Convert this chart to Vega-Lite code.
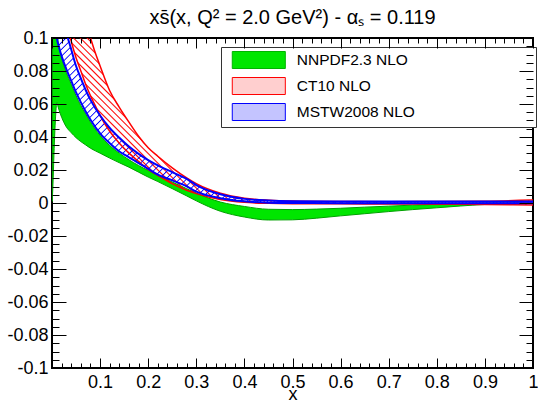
{
"$schema":"https://vega.github.io/schema/vega-lite/v6.json",
"width":481,"height":330,"autosize":"none",
"padding":{"left":52,"top":38,"right":5,"bottom":37},
"title":{"text":"xs\u0304(x, Q\u00b2 = 2.0 GeV\u00b2) - \u03b1\u209b = 0.119","font":"Liberation Sans","fontSize":20,"fontWeight":"normal","color":"#000","anchor":"middle","frame":"group","offset":1.5},
"data":{"values":[
{"series":"NNPDF2.3 NLO","x":0.0005,"lo":0.001,"hi":0.13},
{"series":"NNPDF2.3 NLO","x":0.002,"lo":0.011,"hi":0.13},
{"series":"NNPDF2.3 NLO","x":0.004,"lo":0.029,"hi":0.125},
{"series":"NNPDF2.3 NLO","x":0.006,"lo":0.044,"hi":0.118},
{"series":"NNPDF2.3 NLO","x":0.008,"lo":0.055,"hi":0.11},
{"series":"NNPDF2.3 NLO","x":0.01,"lo":0.061,"hi":0.104},
{"series":"NNPDF2.3 NLO","x":0.012,"lo":0.059,"hi":0.099},
{"series":"NNPDF2.3 NLO","x":0.015,"lo":0.056,"hi":0.094},
{"series":"NNPDF2.3 NLO","x":0.02,"lo":0.052,"hi":0.088},
{"series":"NNPDF2.3 NLO","x":0.03,"lo":0.046,"hi":0.079},
{"series":"NNPDF2.3 NLO","x":0.04,"lo":0.0426,"hi":0.072},
{"series":"NNPDF2.3 NLO","x":0.05,"lo":0.0396,"hi":0.065},
{"series":"NNPDF2.3 NLO","x":0.06,"lo":0.0372,"hi":0.059},
{"series":"NNPDF2.3 NLO","x":0.07,"lo":0.0352,"hi":0.054},
{"series":"NNPDF2.3 NLO","x":0.08,"lo":0.0332,"hi":0.049},
{"series":"NNPDF2.3 NLO","x":0.1,"lo":0.0302,"hi":0.041},
{"series":"NNPDF2.3 NLO","x":0.12,"lo":0.0272,"hi":0.0348},
{"series":"NNPDF2.3 NLO","x":0.14,"lo":0.0244,"hi":0.0302},
{"series":"NNPDF2.3 NLO","x":0.16,"lo":0.0217,"hi":0.0262},
{"series":"NNPDF2.3 NLO","x":0.18,"lo":0.0187,"hi":0.0227},
{"series":"NNPDF2.3 NLO","x":0.2,"lo":0.0157,"hi":0.0197},
{"series":"NNPDF2.3 NLO","x":0.22,"lo":0.013,"hi":0.0167},
{"series":"NNPDF2.3 NLO","x":0.25,"lo":0.0087,"hi":0.0127},
{"series":"NNPDF2.3 NLO","x":0.28,"lo":0.0043,"hi":0.0087},
{"series":"NNPDF2.3 NLO","x":0.3,"lo":0.0013,"hi":0.006},
{"series":"NNPDF2.3 NLO","x":0.35,"lo":-0.005,"hi":0.0006},
{"series":"NNPDF2.3 NLO","x":0.4,"lo":-0.0085,"hi":-0.0021},
{"series":"NNPDF2.3 NLO","x":0.45,"lo":-0.0103,"hi":-0.0038},
{"series":"NNPDF2.3 NLO","x":0.5,"lo":-0.0102,"hi":-0.004},
{"series":"NNPDF2.3 NLO","x":0.55,"lo":-0.0092,"hi":-0.0037},
{"series":"NNPDF2.3 NLO","x":0.6,"lo":-0.0078,"hi":-0.0032},
{"series":"NNPDF2.3 NLO","x":0.65,"lo":-0.0065,"hi":-0.0025},
{"series":"NNPDF2.3 NLO","x":0.7,"lo":-0.0052,"hi":-0.0019},
{"series":"NNPDF2.3 NLO","x":0.75,"lo":-0.004,"hi":-0.0013},
{"series":"NNPDF2.3 NLO","x":0.8,"lo":-0.0029,"hi":-0.0008},
{"series":"NNPDF2.3 NLO","x":0.85,"lo":-0.0018,"hi":-0.0004},
{"series":"NNPDF2.3 NLO","x":0.9,"lo":-0.0009,"hi":0.0},
{"series":"NNPDF2.3 NLO","x":0.95,"lo":-0.0005,"hi":0.0},
{"series":"NNPDF2.3 NLO","x":1.0,"lo":-0.0003,"hi":0.0001},
{"series":"CT10 NLO","x":0.035,"lo":0.104,"hi":0.13},
{"series":"CT10 NLO","x":0.04,"lo":0.098,"hi":0.128},
{"series":"CT10 NLO","x":0.05,"lo":0.088,"hi":0.125},
{"series":"CT10 NLO","x":0.06,"lo":0.08,"hi":0.116},
{"series":"CT10 NLO","x":0.07,"lo":0.072,"hi":0.108},
{"series":"CT10 NLO","x":0.08,"lo":0.065,"hi":0.1},
{"series":"CT10 NLO","x":0.09,"lo":0.059,"hi":0.091},
{"series":"CT10 NLO","x":0.1,"lo":0.053,"hi":0.083},
{"series":"CT10 NLO","x":0.12,"lo":0.0435,"hi":0.068},
{"series":"CT10 NLO","x":0.14,"lo":0.0362,"hi":0.058},
{"series":"CT10 NLO","x":0.16,"lo":0.0302,"hi":0.049},
{"series":"CT10 NLO","x":0.18,"lo":0.0252,"hi":0.0405},
{"series":"CT10 NLO","x":0.2,"lo":0.0203,"hi":0.0335},
{"series":"CT10 NLO","x":0.22,"lo":0.0167,"hi":0.0283},
{"series":"CT10 NLO","x":0.25,"lo":0.0117,"hi":0.0213},
{"series":"CT10 NLO","x":0.28,"lo":0.0077,"hi":0.0152},
{"series":"CT10 NLO","x":0.3,"lo":0.0057,"hi":0.0117},
{"series":"CT10 NLO","x":0.35,"lo":0.0021,"hi":0.0059},
{"series":"CT10 NLO","x":0.4,"lo":0.0004,"hi":0.0029},
{"series":"CT10 NLO","x":0.45,"lo":-0.0002,"hi":0.0017},
{"series":"CT10 NLO","x":0.5,"lo":-0.0004,"hi":0.0012},
{"series":"CT10 NLO","x":0.6,"lo":-0.0005,"hi":0.0009},
{"series":"CT10 NLO","x":0.7,"lo":-0.0006,"hi":0.0008},
{"series":"CT10 NLO","x":0.8,"lo":-0.0007,"hi":0.0009},
{"series":"CT10 NLO","x":0.9,"lo":-0.0009,"hi":0.0011},
{"series":"CT10 NLO","x":1.0,"lo":-0.0012,"hi":0.0018},
{"series":"MSTW2008 NLO","x":0.008,"lo":0.104,"hi":0.128},
{"series":"MSTW2008 NLO","x":0.01,"lo":0.1,"hi":0.126},
{"series":"MSTW2008 NLO","x":0.015,"lo":0.094,"hi":0.12},
{"series":"MSTW2008 NLO","x":0.02,"lo":0.089,"hi":0.114},
{"series":"MSTW2008 NLO","x":0.03,"lo":0.081,"hi":0.103},
{"series":"MSTW2008 NLO","x":0.04,"lo":0.074,"hi":0.093},
{"series":"MSTW2008 NLO","x":0.05,"lo":0.067,"hi":0.083},
{"series":"MSTW2008 NLO","x":0.06,"lo":0.061,"hi":0.0755},
{"series":"MSTW2008 NLO","x":0.07,"lo":0.0555,"hi":0.0685},
{"series":"MSTW2008 NLO","x":0.08,"lo":0.0505,"hi":0.0625},
{"series":"MSTW2008 NLO","x":0.1,"lo":0.0422,"hi":0.053},
{"series":"MSTW2008 NLO","x":0.12,"lo":0.0362,"hi":0.0455},
{"series":"MSTW2008 NLO","x":0.14,"lo":0.0312,"hi":0.0395},
{"series":"MSTW2008 NLO","x":0.16,"lo":0.0277,"hi":0.0342},
{"series":"MSTW2008 NLO","x":0.18,"lo":0.0242,"hi":0.0298},
{"series":"MSTW2008 NLO","x":0.2,"lo":0.0207,"hi":0.026},
{"series":"MSTW2008 NLO","x":0.22,"lo":0.0172,"hi":0.0228},
{"series":"MSTW2008 NLO","x":0.25,"lo":0.0137,"hi":0.0187},
{"series":"MSTW2008 NLO","x":0.28,"lo":0.0101,"hi":0.0146},
{"series":"MSTW2008 NLO","x":0.3,"lo":0.0069,"hi":0.0109},
{"series":"MSTW2008 NLO","x":0.35,"lo":0.0029,"hi":0.0053},
{"series":"MSTW2008 NLO","x":0.4,"lo":0.001,"hi":0.0025},
{"series":"MSTW2008 NLO","x":0.45,"lo":0.0002,"hi":0.0015},
{"series":"MSTW2008 NLO","x":0.5,"lo":0.0,"hi":0.0011},
{"series":"MSTW2008 NLO","x":0.6,"lo":-0.0001,"hi":0.0009},
{"series":"MSTW2008 NLO","x":0.7,"lo":-0.0001,"hi":0.0009},
{"series":"MSTW2008 NLO","x":0.8,"lo":-0.0001,"hi":0.0009},
{"series":"MSTW2008 NLO","x":0.9,"lo":-0.0001,"hi":0.0009},
{"series":"MSTW2008 NLO","x":1.0,"lo":-0.0001,"hi":0.0009}
]},
"layer":[
{"transform":[{"filter":"datum.series === 'NNPDF2.3 NLO'"}],
 "mark":{"type":"area","clip":true,"interpolate":"monotone","fill":"#00e600","stroke":"#00a000","strokeWidth":1},
 "encoding":{
  "x":{"field":"x","type":"quantitative","scale":{"domain":[0,1],"nice":false,"zero":false},
   "axis":{"orient":"bottom","values":[0.1,0.2,0.3,0.4,0.5,0.6,0.7,0.8,0.9,1],"ticks":false,"labelExpr":"format(datum.value, '~g')","labelPadding":5,"labelFlush":false,"labelOverlap":false,"labelBound":false,"title":"x","titlePadding":-6}},
  "y":{"field":"lo","type":"quantitative","scale":{"domain":[-0.1,0.1],"nice":false,"zero":false},
   "axis":{"orient":"left","values":[-0.1,-0.08,-0.06,-0.04,-0.02,0,0.02,0.04,0.06,0.08,0.1],"ticks":false,"labelExpr":"replace(format(datum.value, '.2~f'), '\u2212', '-')","labelPadding":4,"labelOverlap":false,"labelBound":false,"title":null}},
  "y2":{"field":"hi"}}},
{"transform":[{"filter":"datum.series === 'CT10 NLO'"}],
 "mark":{"type":"area","clip":true,"interpolate":"monotone","fill":{"gradient":"linear","x1":0,"y1":1,"x2":1.2044,"y2":0.4383,"stops":[
{"offset":0,"color":"#f000"},{"offset":0.0022,"color":"#f00"},{"offset":0.0044,"color":"#f000"},
{"offset":0.01,"color":"#f000"},{"offset":0.0122,"color":"#f00"},{"offset":0.0144,"color":"#f000"},
{"offset":0.02,"color":"#f000"},{"offset":0.0222,"color":"#f00"},{"offset":0.0244,"color":"#f000"},
{"offset":0.03,"color":"#f000"},{"offset":0.0322,"color":"#f00"},{"offset":0.0344,"color":"#f000"},
{"offset":0.04,"color":"#f000"},{"offset":0.0422,"color":"#f00"},{"offset":0.0444,"color":"#f000"},
{"offset":0.05,"color":"#f000"},{"offset":0.0522,"color":"#f00"},{"offset":0.0544,"color":"#f000"},
{"offset":0.06,"color":"#f000"},{"offset":0.0622,"color":"#f00"},{"offset":0.0644,"color":"#f000"},
{"offset":0.07,"color":"#f000"},{"offset":0.0722,"color":"#f00"},{"offset":0.0744,"color":"#f000"},
{"offset":0.08,"color":"#f000"},{"offset":0.0822,"color":"#f00"},{"offset":0.0844,"color":"#f000"},
{"offset":0.09,"color":"#f000"},{"offset":0.0922,"color":"#f00"},{"offset":0.0944,"color":"#f000"},
{"offset":0.1,"color":"#f000"},{"offset":0.1022,"color":"#f00"},{"offset":0.1044,"color":"#f000"},
{"offset":0.11,"color":"#f000"},{"offset":0.1122,"color":"#f00"},{"offset":0.1144,"color":"#f000"},
{"offset":0.12,"color":"#f000"},{"offset":0.1222,"color":"#f00"},{"offset":0.1244,"color":"#f000"},
{"offset":0.13,"color":"#f000"},{"offset":0.1322,"color":"#f00"},{"offset":0.1344,"color":"#f000"},
{"offset":0.14,"color":"#f000"},{"offset":0.1422,"color":"#f00"},{"offset":0.1444,"color":"#f000"},
{"offset":0.15,"color":"#f000"},{"offset":0.1522,"color":"#f00"},{"offset":0.1544,"color":"#f000"},
{"offset":0.16,"color":"#f000"},{"offset":0.1622,"color":"#f00"},{"offset":0.1644,"color":"#f000"},
{"offset":0.17,"color":"#f000"},{"offset":0.1722,"color":"#f00"},{"offset":0.1744,"color":"#f000"},
{"offset":0.18,"color":"#f000"},{"offset":0.1822,"color":"#f00"},{"offset":0.1844,"color":"#f000"},
{"offset":0.19,"color":"#f000"},{"offset":0.1922,"color":"#f00"},{"offset":0.1944,"color":"#f000"},
{"offset":0.2,"color":"#f000"},{"offset":0.2022,"color":"#f00"},{"offset":0.2044,"color":"#f000"},
{"offset":0.21,"color":"#f000"},{"offset":0.2122,"color":"#f00"},{"offset":0.2144,"color":"#f000"},
{"offset":0.22,"color":"#f000"},{"offset":0.2222,"color":"#f00"},{"offset":0.2244,"color":"#f000"},
{"offset":0.23,"color":"#f000"},{"offset":0.2322,"color":"#f00"},{"offset":0.2344,"color":"#f000"},
{"offset":0.24,"color":"#f000"},{"offset":0.2422,"color":"#f00"},{"offset":0.2444,"color":"#f000"},
{"offset":0.25,"color":"#f000"},{"offset":0.2522,"color":"#f00"},{"offset":0.2544,"color":"#f000"},
{"offset":0.26,"color":"#f000"},{"offset":0.2622,"color":"#f00"},{"offset":0.2644,"color":"#f000"},
{"offset":0.27,"color":"#f000"},{"offset":0.2722,"color":"#f00"},{"offset":0.2744,"color":"#f000"},
{"offset":0.28,"color":"#f000"},{"offset":0.2822,"color":"#f00"},{"offset":0.2844,"color":"#f000"},
{"offset":0.29,"color":"#f000"},{"offset":0.2922,"color":"#f00"},{"offset":0.2944,"color":"#f000"},
{"offset":0.3,"color":"#f000"},{"offset":0.3022,"color":"#f00"},{"offset":0.3044,"color":"#f000"},
{"offset":0.31,"color":"#f000"},{"offset":0.3122,"color":"#f00"},{"offset":0.3144,"color":"#f000"},
{"offset":0.32,"color":"#f000"},{"offset":0.3222,"color":"#f00"},{"offset":0.3244,"color":"#f000"},
{"offset":0.33,"color":"#f000"},{"offset":0.3322,"color":"#f00"},{"offset":0.3344,"color":"#f000"},
{"offset":0.34,"color":"#f000"},{"offset":0.3422,"color":"#f00"},{"offset":0.3444,"color":"#f000"},
{"offset":0.35,"color":"#f000"},{"offset":0.3522,"color":"#f00"},{"offset":0.3544,"color":"#f000"},
{"offset":0.36,"color":"#f000"},{"offset":0.3622,"color":"#f00"},{"offset":0.3644,"color":"#f000"},
{"offset":0.37,"color":"#f000"},{"offset":0.3722,"color":"#f00"},{"offset":0.3744,"color":"#f000"},
{"offset":0.38,"color":"#f000"},{"offset":0.3822,"color":"#f00"},{"offset":0.3844,"color":"#f000"},
{"offset":0.39,"color":"#f000"},{"offset":0.3922,"color":"#f00"},{"offset":0.3944,"color":"#f000"},
{"offset":0.4,"color":"#f000"},{"offset":0.4022,"color":"#f00"},{"offset":0.4044,"color":"#f000"},
{"offset":0.41,"color":"#f000"},{"offset":0.4122,"color":"#f00"},{"offset":0.4144,"color":"#f000"},
{"offset":0.42,"color":"#f000"},{"offset":0.4222,"color":"#f00"},{"offset":0.4244,"color":"#f000"},
{"offset":0.43,"color":"#f000"},{"offset":0.4322,"color":"#f00"},{"offset":0.4344,"color":"#f000"},
{"offset":0.44,"color":"#f000"},{"offset":0.4422,"color":"#f00"},{"offset":0.4444,"color":"#f000"},
{"offset":0.45,"color":"#f000"},{"offset":0.4522,"color":"#f00"},{"offset":0.4544,"color":"#f000"},
{"offset":0.46,"color":"#f000"},{"offset":0.4622,"color":"#f00"},{"offset":0.4644,"color":"#f000"},
{"offset":0.47,"color":"#f000"},{"offset":0.4722,"color":"#f00"},{"offset":0.4744,"color":"#f000"},
{"offset":0.48,"color":"#f000"},{"offset":0.4822,"color":"#f00"},{"offset":0.4844,"color":"#f000"},
{"offset":0.49,"color":"#f000"},{"offset":0.4922,"color":"#f00"},{"offset":0.4944,"color":"#f000"},
{"offset":0.5,"color":"#f000"},{"offset":0.5022,"color":"#f00"},{"offset":0.5044,"color":"#f000"},
{"offset":0.51,"color":"#f000"},{"offset":0.5122,"color":"#f00"},{"offset":0.5144,"color":"#f000"},
{"offset":0.52,"color":"#f000"},{"offset":0.5222,"color":"#f00"},{"offset":0.5244,"color":"#f000"},
{"offset":0.53,"color":"#f000"},{"offset":0.5322,"color":"#f00"},{"offset":0.5344,"color":"#f000"},
{"offset":0.54,"color":"#f000"},{"offset":0.5422,"color":"#f00"},{"offset":0.5444,"color":"#f000"},
{"offset":0.55,"color":"#f000"},{"offset":0.5522,"color":"#f00"},{"offset":0.5544,"color":"#f000"},
{"offset":0.56,"color":"#f000"},{"offset":0.5622,"color":"#f00"},{"offset":0.5644,"color":"#f000"},
{"offset":0.57,"color":"#f000"},{"offset":0.5722,"color":"#f00"},{"offset":0.5744,"color":"#f000"},
{"offset":0.58,"color":"#f000"},{"offset":0.5822,"color":"#f00"},{"offset":0.5844,"color":"#f000"},
{"offset":0.59,"color":"#f000"},{"offset":0.5922,"color":"#f00"},{"offset":0.5944,"color":"#f000"},
{"offset":0.6,"color":"#f000"},{"offset":0.6022,"color":"#f00"},{"offset":0.6044,"color":"#f000"},
{"offset":0.61,"color":"#f000"},{"offset":0.6122,"color":"#f00"},{"offset":0.6144,"color":"#f000"},
{"offset":0.62,"color":"#f000"},{"offset":0.6222,"color":"#f00"},{"offset":0.6244,"color":"#f000"},
{"offset":0.63,"color":"#f000"},{"offset":0.6322,"color":"#f00"},{"offset":0.6344,"color":"#f000"},
{"offset":0.64,"color":"#f000"},{"offset":0.6422,"color":"#f00"},{"offset":0.6444,"color":"#f000"},
{"offset":0.65,"color":"#f000"},{"offset":0.6522,"color":"#f00"},{"offset":0.6544,"color":"#f000"},
{"offset":0.66,"color":"#f000"},{"offset":0.6622,"color":"#f00"},{"offset":0.6644,"color":"#f000"},
{"offset":0.67,"color":"#f000"},{"offset":0.6722,"color":"#f00"},{"offset":0.6744,"color":"#f000"},
{"offset":0.68,"color":"#f000"},{"offset":0.6822,"color":"#f00"},{"offset":0.6844,"color":"#f000"},
{"offset":0.69,"color":"#f000"},{"offset":0.6922,"color":"#f00"},{"offset":0.6944,"color":"#f000"},
{"offset":0.7,"color":"#f000"},{"offset":0.7022,"color":"#f00"},{"offset":0.7044,"color":"#f000"},
{"offset":0.71,"color":"#f000"},{"offset":0.7122,"color":"#f00"},{"offset":0.7144,"color":"#f000"},
{"offset":0.72,"color":"#f000"},{"offset":0.7222,"color":"#f00"},{"offset":0.7244,"color":"#f000"},
{"offset":0.73,"color":"#f000"},{"offset":0.7322,"color":"#f00"},{"offset":0.7344,"color":"#f000"},
{"offset":0.74,"color":"#f000"},{"offset":0.7422,"color":"#f00"},{"offset":0.7444,"color":"#f000"},
{"offset":0.75,"color":"#f000"},{"offset":0.7522,"color":"#f00"},{"offset":0.7544,"color":"#f000"},
{"offset":0.76,"color":"#f000"},{"offset":0.7622,"color":"#f00"},{"offset":0.7644,"color":"#f000"},
{"offset":0.77,"color":"#f000"},{"offset":0.7722,"color":"#f00"},{"offset":0.7744,"color":"#f000"},
{"offset":0.78,"color":"#f000"},{"offset":0.7822,"color":"#f00"},{"offset":0.7844,"color":"#f000"},
{"offset":0.79,"color":"#f000"},{"offset":0.7922,"color":"#f00"},{"offset":0.7944,"color":"#f000"},
{"offset":0.8,"color":"#f000"},{"offset":0.8022,"color":"#f00"},{"offset":0.8044,"color":"#f000"},
{"offset":0.81,"color":"#f000"},{"offset":0.8122,"color":"#f00"},{"offset":0.8144,"color":"#f000"},
{"offset":0.82,"color":"#f000"},{"offset":0.8222,"color":"#f00"},{"offset":0.8244,"color":"#f000"},
{"offset":0.83,"color":"#f000"},{"offset":0.8322,"color":"#f00"},{"offset":0.8344,"color":"#f000"},
{"offset":0.84,"color":"#f000"},{"offset":0.8422,"color":"#f00"},{"offset":0.8444,"color":"#f000"},
{"offset":0.85,"color":"#f000"},{"offset":0.8522,"color":"#f00"},{"offset":0.8544,"color":"#f000"},
{"offset":0.86,"color":"#f000"},{"offset":0.8622,"color":"#f00"},{"offset":0.8644,"color":"#f000"},
{"offset":0.87,"color":"#f000"},{"offset":0.8722,"color":"#f00"},{"offset":0.8744,"color":"#f000"},
{"offset":0.88,"color":"#f000"},{"offset":0.8822,"color":"#f00"},{"offset":0.8844,"color":"#f000"},
{"offset":0.89,"color":"#f000"},{"offset":0.8922,"color":"#f00"},{"offset":0.8944,"color":"#f000"},
{"offset":0.9,"color":"#f000"},{"offset":0.9022,"color":"#f00"},{"offset":0.9044,"color":"#f000"},
{"offset":0.91,"color":"#f000"},{"offset":0.9122,"color":"#f00"},{"offset":0.9144,"color":"#f000"},
{"offset":0.92,"color":"#f000"},{"offset":0.9222,"color":"#f00"},{"offset":0.9244,"color":"#f000"},
{"offset":0.93,"color":"#f000"},{"offset":0.9322,"color":"#f00"},{"offset":0.9344,"color":"#f000"},
{"offset":0.94,"color":"#f000"},{"offset":0.9422,"color":"#f00"},{"offset":0.9444,"color":"#f000"},
{"offset":0.95,"color":"#f000"},{"offset":0.9522,"color":"#f00"},{"offset":0.9544,"color":"#f000"},
{"offset":0.96,"color":"#f000"},{"offset":0.9622,"color":"#f00"},{"offset":0.9644,"color":"#f000"},
{"offset":0.97,"color":"#f000"},{"offset":0.9722,"color":"#f00"},{"offset":0.9744,"color":"#f000"},
{"offset":0.98,"color":"#f000"},{"offset":0.9822,"color":"#f00"},{"offset":0.9844,"color":"#f000"},
{"offset":0.99,"color":"#f000"},{"offset":0.9922,"color":"#f00"},{"offset":0.9944,"color":"#f000"}
 ]}},
 "encoding":{
  "x":{"field":"x","type":"quantitative","scale":{"domain":[0,1],"nice":false,"zero":false},
   "axis":{"orient":"bottom","values":[0,0.1,0.2,0.3,0.4,0.5,0.6,0.7,0.8,0.9,1],"labels":false,"tickSize":-10,"title":null,"zindex":1}},
  "y":{"field":"lo","type":"quantitative","scale":{"domain":[-0.1,0.1],"nice":false,"zero":false},
   "axis":{"orient":"left","values":[-0.1,-0.08,-0.06,-0.04,-0.02,0,0.02,0.04,0.06,0.08,0.1],"labels":false,"tickSize":-14,"title":null,"zindex":1}},
  "y2":{"field":"hi"}}},
{"transform":[{"filter":"datum.series === 'MSTW2008 NLO'"}],
 "mark":{"type":"area","clip":true,"interpolate":"monotone","fill":{"gradient":"linear","x1":0,"y1":0,"x2":1.2063,"y2":0.5344,"stops":[
{"offset":0,"color":"#00f0"},{"offset":0.0018,"color":"#00f"},{"offset":0.0036,"color":"#00f0"},
{"offset":0.01,"color":"#00f0"},{"offset":0.0118,"color":"#00f"},{"offset":0.0136,"color":"#00f0"},
{"offset":0.02,"color":"#00f0"},{"offset":0.0218,"color":"#00f"},{"offset":0.0236,"color":"#00f0"},
{"offset":0.03,"color":"#00f0"},{"offset":0.0318,"color":"#00f"},{"offset":0.0336,"color":"#00f0"},
{"offset":0.04,"color":"#00f0"},{"offset":0.0418,"color":"#00f"},{"offset":0.0436,"color":"#00f0"},
{"offset":0.05,"color":"#00f0"},{"offset":0.0518,"color":"#00f"},{"offset":0.0536,"color":"#00f0"},
{"offset":0.06,"color":"#00f0"},{"offset":0.0618,"color":"#00f"},{"offset":0.0636,"color":"#00f0"},
{"offset":0.07,"color":"#00f0"},{"offset":0.0718,"color":"#00f"},{"offset":0.0736,"color":"#00f0"},
{"offset":0.08,"color":"#00f0"},{"offset":0.0818,"color":"#00f"},{"offset":0.0836,"color":"#00f0"},
{"offset":0.09,"color":"#00f0"},{"offset":0.0918,"color":"#00f"},{"offset":0.0936,"color":"#00f0"},
{"offset":0.1,"color":"#00f0"},{"offset":0.1018,"color":"#00f"},{"offset":0.1036,"color":"#00f0"},
{"offset":0.11,"color":"#00f0"},{"offset":0.1118,"color":"#00f"},{"offset":0.1136,"color":"#00f0"},
{"offset":0.12,"color":"#00f0"},{"offset":0.1218,"color":"#00f"},{"offset":0.1236,"color":"#00f0"},
{"offset":0.13,"color":"#00f0"},{"offset":0.1318,"color":"#00f"},{"offset":0.1336,"color":"#00f0"},
{"offset":0.14,"color":"#00f0"},{"offset":0.1418,"color":"#00f"},{"offset":0.1436,"color":"#00f0"},
{"offset":0.15,"color":"#00f0"},{"offset":0.1518,"color":"#00f"},{"offset":0.1536,"color":"#00f0"},
{"offset":0.16,"color":"#00f0"},{"offset":0.1618,"color":"#00f"},{"offset":0.1636,"color":"#00f0"},
{"offset":0.17,"color":"#00f0"},{"offset":0.1718,"color":"#00f"},{"offset":0.1736,"color":"#00f0"},
{"offset":0.18,"color":"#00f0"},{"offset":0.1818,"color":"#00f"},{"offset":0.1836,"color":"#00f0"},
{"offset":0.19,"color":"#00f0"},{"offset":0.1918,"color":"#00f"},{"offset":0.1936,"color":"#00f0"},
{"offset":0.2,"color":"#00f0"},{"offset":0.2018,"color":"#00f"},{"offset":0.2036,"color":"#00f0"},
{"offset":0.21,"color":"#00f0"},{"offset":0.2118,"color":"#00f"},{"offset":0.2136,"color":"#00f0"},
{"offset":0.22,"color":"#00f0"},{"offset":0.2218,"color":"#00f"},{"offset":0.2236,"color":"#00f0"},
{"offset":0.23,"color":"#00f0"},{"offset":0.2318,"color":"#00f"},{"offset":0.2336,"color":"#00f0"},
{"offset":0.24,"color":"#00f0"},{"offset":0.2418,"color":"#00f"},{"offset":0.2436,"color":"#00f0"},
{"offset":0.25,"color":"#00f0"},{"offset":0.2518,"color":"#00f"},{"offset":0.2536,"color":"#00f0"},
{"offset":0.26,"color":"#00f0"},{"offset":0.2618,"color":"#00f"},{"offset":0.2636,"color":"#00f0"},
{"offset":0.27,"color":"#00f0"},{"offset":0.2718,"color":"#00f"},{"offset":0.2736,"color":"#00f0"},
{"offset":0.28,"color":"#00f0"},{"offset":0.2818,"color":"#00f"},{"offset":0.2836,"color":"#00f0"},
{"offset":0.29,"color":"#00f0"},{"offset":0.2918,"color":"#00f"},{"offset":0.2936,"color":"#00f0"},
{"offset":0.3,"color":"#00f0"},{"offset":0.3018,"color":"#00f"},{"offset":0.3036,"color":"#00f0"},
{"offset":0.31,"color":"#00f0"},{"offset":0.3118,"color":"#00f"},{"offset":0.3136,"color":"#00f0"},
{"offset":0.32,"color":"#00f0"},{"offset":0.3218,"color":"#00f"},{"offset":0.3236,"color":"#00f0"},
{"offset":0.33,"color":"#00f0"},{"offset":0.3318,"color":"#00f"},{"offset":0.3336,"color":"#00f0"},
{"offset":0.34,"color":"#00f0"},{"offset":0.3418,"color":"#00f"},{"offset":0.3436,"color":"#00f0"},
{"offset":0.35,"color":"#00f0"},{"offset":0.3518,"color":"#00f"},{"offset":0.3536,"color":"#00f0"},
{"offset":0.36,"color":"#00f0"},{"offset":0.3618,"color":"#00f"},{"offset":0.3636,"color":"#00f0"},
{"offset":0.37,"color":"#00f0"},{"offset":0.3718,"color":"#00f"},{"offset":0.3736,"color":"#00f0"},
{"offset":0.38,"color":"#00f0"},{"offset":0.3818,"color":"#00f"},{"offset":0.3836,"color":"#00f0"},
{"offset":0.39,"color":"#00f0"},{"offset":0.3918,"color":"#00f"},{"offset":0.3936,"color":"#00f0"},
{"offset":0.4,"color":"#00f0"},{"offset":0.4018,"color":"#00f"},{"offset":0.4036,"color":"#00f0"},
{"offset":0.41,"color":"#00f0"},{"offset":0.4118,"color":"#00f"},{"offset":0.4136,"color":"#00f0"},
{"offset":0.42,"color":"#00f0"},{"offset":0.4218,"color":"#00f"},{"offset":0.4236,"color":"#00f0"},
{"offset":0.43,"color":"#00f0"},{"offset":0.4318,"color":"#00f"},{"offset":0.4336,"color":"#00f0"},
{"offset":0.44,"color":"#00f0"},{"offset":0.4418,"color":"#00f"},{"offset":0.4436,"color":"#00f0"},
{"offset":0.45,"color":"#00f0"},{"offset":0.4518,"color":"#00f"},{"offset":0.4536,"color":"#00f0"},
{"offset":0.46,"color":"#00f0"},{"offset":0.4618,"color":"#00f"},{"offset":0.4636,"color":"#00f0"},
{"offset":0.47,"color":"#00f0"},{"offset":0.4718,"color":"#00f"},{"offset":0.4736,"color":"#00f0"},
{"offset":0.48,"color":"#00f0"},{"offset":0.4818,"color":"#00f"},{"offset":0.4836,"color":"#00f0"},
{"offset":0.49,"color":"#00f0"},{"offset":0.4918,"color":"#00f"},{"offset":0.4936,"color":"#00f0"},
{"offset":0.5,"color":"#00f0"},{"offset":0.5018,"color":"#00f"},{"offset":0.5036,"color":"#00f0"},
{"offset":0.51,"color":"#00f0"},{"offset":0.5118,"color":"#00f"},{"offset":0.5136,"color":"#00f0"},
{"offset":0.52,"color":"#00f0"},{"offset":0.5218,"color":"#00f"},{"offset":0.5236,"color":"#00f0"},
{"offset":0.53,"color":"#00f0"},{"offset":0.5318,"color":"#00f"},{"offset":0.5336,"color":"#00f0"},
{"offset":0.54,"color":"#00f0"},{"offset":0.5418,"color":"#00f"},{"offset":0.5436,"color":"#00f0"},
{"offset":0.55,"color":"#00f0"},{"offset":0.5518,"color":"#00f"},{"offset":0.5536,"color":"#00f0"},
{"offset":0.56,"color":"#00f0"},{"offset":0.5618,"color":"#00f"},{"offset":0.5636,"color":"#00f0"},
{"offset":0.57,"color":"#00f0"},{"offset":0.5718,"color":"#00f"},{"offset":0.5736,"color":"#00f0"},
{"offset":0.58,"color":"#00f0"},{"offset":0.5818,"color":"#00f"},{"offset":0.5836,"color":"#00f0"},
{"offset":0.59,"color":"#00f0"},{"offset":0.5918,"color":"#00f"},{"offset":0.5936,"color":"#00f0"},
{"offset":0.6,"color":"#00f0"},{"offset":0.6018,"color":"#00f"},{"offset":0.6036,"color":"#00f0"},
{"offset":0.61,"color":"#00f0"},{"offset":0.6118,"color":"#00f"},{"offset":0.6136,"color":"#00f0"},
{"offset":0.62,"color":"#00f0"},{"offset":0.6218,"color":"#00f"},{"offset":0.6236,"color":"#00f0"},
{"offset":0.63,"color":"#00f0"},{"offset":0.6318,"color":"#00f"},{"offset":0.6336,"color":"#00f0"},
{"offset":0.64,"color":"#00f0"},{"offset":0.6418,"color":"#00f"},{"offset":0.6436,"color":"#00f0"},
{"offset":0.65,"color":"#00f0"},{"offset":0.6518,"color":"#00f"},{"offset":0.6536,"color":"#00f0"},
{"offset":0.66,"color":"#00f0"},{"offset":0.6618,"color":"#00f"},{"offset":0.6636,"color":"#00f0"},
{"offset":0.67,"color":"#00f0"},{"offset":0.6718,"color":"#00f"},{"offset":0.6736,"color":"#00f0"},
{"offset":0.68,"color":"#00f0"},{"offset":0.6818,"color":"#00f"},{"offset":0.6836,"color":"#00f0"},
{"offset":0.69,"color":"#00f0"},{"offset":0.6918,"color":"#00f"},{"offset":0.6936,"color":"#00f0"},
{"offset":0.7,"color":"#00f0"},{"offset":0.7018,"color":"#00f"},{"offset":0.7036,"color":"#00f0"},
{"offset":0.71,"color":"#00f0"},{"offset":0.7118,"color":"#00f"},{"offset":0.7136,"color":"#00f0"},
{"offset":0.72,"color":"#00f0"},{"offset":0.7218,"color":"#00f"},{"offset":0.7236,"color":"#00f0"},
{"offset":0.73,"color":"#00f0"},{"offset":0.7318,"color":"#00f"},{"offset":0.7336,"color":"#00f0"},
{"offset":0.74,"color":"#00f0"},{"offset":0.7418,"color":"#00f"},{"offset":0.7436,"color":"#00f0"},
{"offset":0.75,"color":"#00f0"},{"offset":0.7518,"color":"#00f"},{"offset":0.7536,"color":"#00f0"},
{"offset":0.76,"color":"#00f0"},{"offset":0.7618,"color":"#00f"},{"offset":0.7636,"color":"#00f0"},
{"offset":0.77,"color":"#00f0"},{"offset":0.7718,"color":"#00f"},{"offset":0.7736,"color":"#00f0"},
{"offset":0.78,"color":"#00f0"},{"offset":0.7818,"color":"#00f"},{"offset":0.7836,"color":"#00f0"},
{"offset":0.79,"color":"#00f0"},{"offset":0.7918,"color":"#00f"},{"offset":0.7936,"color":"#00f0"},
{"offset":0.8,"color":"#00f0"},{"offset":0.8018,"color":"#00f"},{"offset":0.8036,"color":"#00f0"},
{"offset":0.81,"color":"#00f0"},{"offset":0.8118,"color":"#00f"},{"offset":0.8136,"color":"#00f0"},
{"offset":0.82,"color":"#00f0"},{"offset":0.8218,"color":"#00f"},{"offset":0.8236,"color":"#00f0"},
{"offset":0.83,"color":"#00f0"},{"offset":0.8318,"color":"#00f"},{"offset":0.8336,"color":"#00f0"},
{"offset":0.84,"color":"#00f0"},{"offset":0.8418,"color":"#00f"},{"offset":0.8436,"color":"#00f0"},
{"offset":0.85,"color":"#00f0"},{"offset":0.8518,"color":"#00f"},{"offset":0.8536,"color":"#00f0"},
{"offset":0.86,"color":"#00f0"},{"offset":0.8618,"color":"#00f"},{"offset":0.8636,"color":"#00f0"},
{"offset":0.87,"color":"#00f0"},{"offset":0.8718,"color":"#00f"},{"offset":0.8736,"color":"#00f0"},
{"offset":0.88,"color":"#00f0"},{"offset":0.8818,"color":"#00f"},{"offset":0.8836,"color":"#00f0"},
{"offset":0.89,"color":"#00f0"},{"offset":0.8918,"color":"#00f"},{"offset":0.8936,"color":"#00f0"},
{"offset":0.9,"color":"#00f0"},{"offset":0.9018,"color":"#00f"},{"offset":0.9036,"color":"#00f0"},
{"offset":0.91,"color":"#00f0"},{"offset":0.9118,"color":"#00f"},{"offset":0.9136,"color":"#00f0"},
{"offset":0.92,"color":"#00f0"},{"offset":0.9218,"color":"#00f"},{"offset":0.9236,"color":"#00f0"},
{"offset":0.93,"color":"#00f0"},{"offset":0.9318,"color":"#00f"},{"offset":0.9336,"color":"#00f0"},
{"offset":0.94,"color":"#00f0"},{"offset":0.9418,"color":"#00f"},{"offset":0.9436,"color":"#00f0"},
{"offset":0.95,"color":"#00f0"},{"offset":0.9518,"color":"#00f"},{"offset":0.9536,"color":"#00f0"},
{"offset":0.96,"color":"#00f0"},{"offset":0.9618,"color":"#00f"},{"offset":0.9636,"color":"#00f0"},
{"offset":0.97,"color":"#00f0"},{"offset":0.9718,"color":"#00f"},{"offset":0.9736,"color":"#00f0"},
{"offset":0.98,"color":"#00f0"},{"offset":0.9818,"color":"#00f"},{"offset":0.9836,"color":"#00f0"},
{"offset":0.99,"color":"#00f0"},{"offset":0.9918,"color":"#00f"},{"offset":0.9936,"color":"#00f0"}
 ]}},
 "encoding":{
  "x":{"field":"x","type":"quantitative","scale":{"domain":[0,1],"nice":false,"zero":false},
   "axis":{"orient":"bottom","values":[0.02,0.04,0.06,0.08,0.12,0.14,0.16,0.18,0.22,0.24,0.26,0.28,0.32,0.34,0.36,0.38,0.42,0.44,0.46,0.48,0.52,0.54,0.56,0.58,0.62,0.64,0.66,0.68,0.72,0.74,0.76,0.78,0.82,0.84,0.86,0.88,0.92,0.94,0.96,0.98],"labels":false,"tickSize":-5,"title":null,"zindex":1}},
  "y":{"field":"lo","type":"quantitative","scale":{"domain":[-0.1,0.1],"nice":false,"zero":false},
   "axis":{"orient":"left","values":[-0.095,-0.09,-0.085,-0.075,-0.07,-0.065,-0.055,-0.05,-0.045,-0.035,-0.03,-0.025,-0.015,-0.01,-0.005,0.005,0.01,0.015,0.025,0.03,0.035,0.045,0.05,0.055,0.065,0.07,0.075,0.085,0.09,0.095],"labels":false,"tickSize":-7,"title":null,"zindex":1}},
  "y2":{"field":"hi"}}},
{"transform":[{"filter":"datum.series === 'CT10 NLO'"}],
 "mark":{"type":"line","clip":true,"interpolate":"monotone","color":"#ff0000","strokeWidth":1.5},
 "encoding":{
  "x":{"field":"x","type":"quantitative","scale":{"domain":[0,1],"nice":false,"zero":false},
   "axis":{"orient":"top","values":[0,0.1,0.2,0.3,0.4,0.5,0.6,0.7,0.8,0.9,1],"labels":false,"tickSize":-10,"title":null,"zindex":1}},
  "y":{"field":"lo","type":"quantitative","scale":{"domain":[-0.1,0.1],"nice":false,"zero":false},
   "axis":{"orient":"right","values":[-0.1,-0.08,-0.06,-0.04,-0.02,0,0.02,0.04,0.06,0.08,0.1],"labels":false,"tickSize":-14,"title":null,"zindex":1}}}},
{"transform":[{"filter":"datum.series === 'CT10 NLO'"}],
 "mark":{"type":"line","clip":true,"interpolate":"monotone","color":"#ff0000","strokeWidth":1.5},
 "encoding":{
  "x":{"field":"x","type":"quantitative","scale":{"domain":[0,1],"nice":false,"zero":false},
   "axis":{"orient":"top","values":[0.02,0.04,0.06,0.08,0.12,0.14,0.16,0.18,0.22,0.24,0.26,0.28,0.32,0.34,0.36,0.38,0.42,0.44,0.46,0.48,0.52,0.54,0.56,0.58,0.62,0.64,0.66,0.68,0.72,0.74,0.76,0.78,0.82,0.84,0.86,0.88,0.92,0.94,0.96,0.98],"labels":false,"tickSize":-5,"title":null,"zindex":1}},
  "y":{"field":"hi","type":"quantitative","scale":{"domain":[-0.1,0.1],"nice":false,"zero":false},
   "axis":{"orient":"right","values":[-0.095,-0.09,-0.085,-0.075,-0.07,-0.065,-0.055,-0.05,-0.045,-0.035,-0.03,-0.025,-0.015,-0.01,-0.005,0.005,0.01,0.015,0.025,0.03,0.035,0.045,0.05,0.055,0.065,0.07,0.075,0.085,0.09,0.095],"labels":false,"tickSize":-7,"title":null,"zindex":1}}}},
{"transform":[{"filter":"datum.series === 'MSTW2008 NLO'"}],
 "mark":{"type":"line","clip":true,"interpolate":"monotone","color":"#0000ff","strokeWidth":2},
 "encoding":{
  "x":{"field":"x","type":"quantitative","scale":{"domain":[0,1],"nice":false,"zero":false},"axis":null},
  "y":{"field":"lo","type":"quantitative","scale":{"domain":[-0.1,0.1],"nice":false,"zero":false},"axis":null}}},
{"transform":[{"filter":"datum.series === 'MSTW2008 NLO'"}],
 "mark":{"type":"line","clip":true,"interpolate":"monotone","color":"#0000ff","strokeWidth":2},
 "encoding":{
  "x":{"field":"x","type":"quantitative","scale":{"domain":[0,1],"nice":false,"zero":false},"axis":null},
  "y":{"field":"hi","type":"quantitative","scale":{"domain":[-0.1,0.1],"nice":false,"zero":false},"axis":null}}},
{"mark":{"type":"point","filled":true,"opacity":0,"clip":true},
 "encoding":{
  "x":{"field":"x","type":"quantitative","scale":{"domain":[0,1],"nice":false,"zero":false},"axis":null},
  "y":{"field":"lo","type":"quantitative","scale":{"domain":[-0.1,0.1],"nice":false,"zero":false},"axis":null},
  "fill":{"field":"series","type":"nominal","scale":{"domain":["NNPDF2.3 NLO","CT10 NLO","MSTW2008 NLO"],"range":["#00e600","#ffcfcf","#c4c4ff"]},
   "legend":{"orient":"none","legendX":169,"legendY":9,"title":null,
    "symbolType":"M-3.12,-1H3.12V1H-3.12Z","symbolSize":289,"symbolStrokeWidth":1,"symbolOffset":24.8,"symbolOpacity":1,
    "labelFont":"Liberation Sans","labelFontSize":15.5,"labelColor":"#000","labelOffset":29,"labelLimit":400,
    "labelExpr":"datum.label + '                           \u200b'",
    "padding":4,"rowPadding":4,"strokeColor":"#333","fillColor":"#fff"}},
  "stroke":{"field":"series","type":"nominal","scale":{"domain":["NNPDF2.3 NLO","CT10 NLO","MSTW2008 NLO"],"range":["#00b400","#ff0000","#0000ff"]},
   "legend":{"orient":"none","legendX":169,"legendY":9,"title":null,
    "symbolType":"M-3.12,-1H3.12V1H-3.12Z","symbolSize":289,"symbolStrokeWidth":1,"symbolOffset":24.8,"symbolOpacity":1,
    "labelFont":"Liberation Sans","labelFontSize":15.5,"labelColor":"#000","labelOffset":29,"labelLimit":400,
    "labelExpr":"datum.label + '                           \u200b'",
    "padding":4,"rowPadding":4,"strokeColor":"#333","fillColor":"#fff"}}}}
],
"resolve":{"axis":{"x":"independent","y":"independent"}},
"config":{
 "view":{"stroke":"#000","strokeWidth":2},
 "axis":{"grid":false,"domain":false,"labelFont":"Liberation Sans","labelFontSize":18,"labelColor":"#000","titleFont":"Liberation Sans","titleFontSize":18,"titleFontWeight":"normal","titleColor":"#000","tickColor":"#000","tickWidth":1},
 "legend":{"symbolStrokeWidth":1}
}
}
